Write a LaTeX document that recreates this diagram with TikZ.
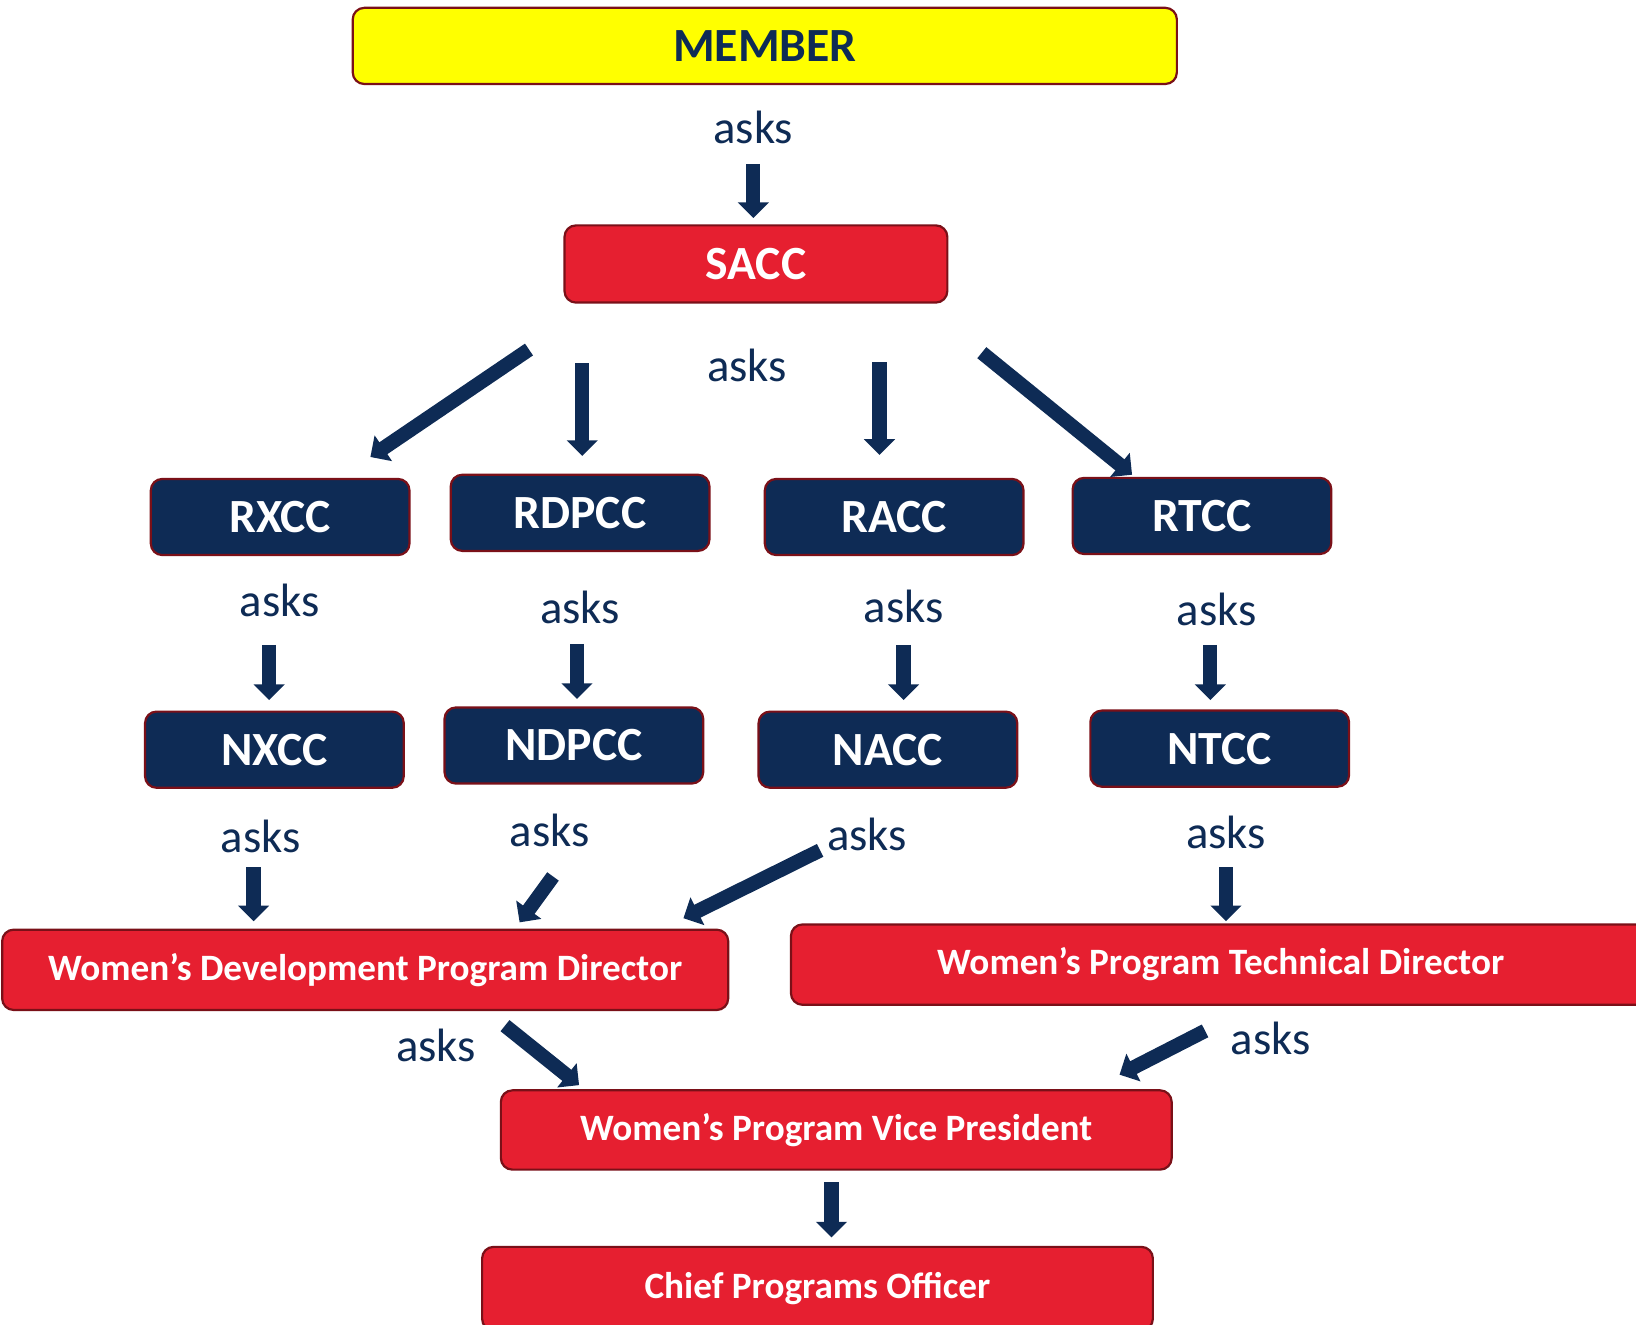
\documentclass[tikz,border=0pt]{standalone}
\usepackage{fontspec}
\setmainfont{Carlito}
\usetikzlibrary{arrows.meta, positioning, calc}
\usepackage{xcolor}
\definecolor{navy}{HTML}{0E2B55}
\definecolor{boxred}{HTML}{E61F30}
\definecolor{boxedge}{HTML}{7A1018}
\definecolor{memberyellow}{HTML}{FFFF00}

\tikzset{
  box/.style={draw=boxedge, line width=1.2pt, rounded corners=0.22cm, inner sep=0pt, font=\bfseries\fontsize{26}{31}\selectfont},
  navybox/.style={box, fill=navy, text=white, minimum width=4.96cm, minimum height=1.46cm},
  redbox/.style={box, fill=boxred, text=white},
  longlabel/.style={font=\bfseries\fontsize{20.3}{24}\selectfont},
  asks/.style={text=navy, font=\fontsize{25.5}{30}\selectfont},
  arr/.style={draw=navy, line width=7.8pt, -{Triangle[width=0.58cm,length=0.3cm]}},
}

\begin{document}
\begin{tikzpicture}[x=0.02cm, y=-0.02cm]
    \useasboundingbox (0,0) rectangle (1568,1269);
    \clip (0,0) rectangle (1568,1269);

    \node[box, fill=memberyellow, text=navy, minimum width=15.8cm, minimum height=1.46cm] (member) at (733,44) {MEMBER};
    \node[redbox, minimum width=7.34cm, minimum height=1.48cm] (sacc) at (724.5,253) {SACC};

    \node[navybox] (rxcc) at (268.5,495.5) {RXCC};
    \node[navybox] (rdpcc) at (556,491.5) {RDPCC};
    \node[navybox] (racc) at (857,495.5) {RACC};
    \node[navybox] (rtcc) at (1152,494.5) {RTCC};

    \node[navybox] (nxcc) at (263,718.5) {NXCC};
    \node[navybox] (ndpcc) at (550,714.5) {NDPCC};
    \node[navybox] (nacc) at (851,718.5) {NACC};
    \node[navybox] (ntcc) at (1169,717.5) {NTCC};

    \node[redbox, longlabel, minimum width=13.92cm, minimum height=1.54cm] (wdpd) at (350,929.5) {Women’s Development Program Director};
    \node[redbox, longlabel, minimum width=16.48cm, minimum height=1.54cm] (wptd) at (1170,924.5) {Women’s Program Technical Director};
    \node[redbox, longlabel, minimum width=12.86cm, minimum height=1.52cm] (wpvp) at (801.5,1083) {Women’s Program Vice President};
    \node[redbox, longlabel, minimum width=12.86cm, minimum height=1.6cm] (cpo) at (783.5,1235) {Chief Programs Officer};

    \node[asks] (ask1) at (722,122) {asks};
    \node[asks] (ask2) at (716,350) {asks};
    \node[asks] (ask3) at (268,575) {asks};
    \node[asks] (ask4) at (556,582) {asks};
    \node[asks] (ask5) at (866,581) {asks};
    \node[asks] (ask6) at (1166,584) {asks};
    \node[asks] (ask7) at (250,802) {asks};
    \node[asks] (ask8) at (527,796) {asks};
    \node[asks] (ask9) at (831,800) {asks};
    \node[asks] (ask10) at (1175,798) {asks};
    \node[asks] (ask11) at (418,1002) {asks};
    \node[asks] (ask12) at (1218,995) {asks};

    \coordinate (t1) at (722,157);
    \coordinate (t2) at (507,335);   \coordinate (h2) at (355,438);
    \coordinate (t3) at (558,348);
    \coordinate (t4) at (843,347);
    \coordinate (t5) at (941,338);   \coordinate (h5) at (1085,455);
    \coordinate (t6) at (258,618);
    \coordinate (t7) at (553,617);
    \coordinate (t8) at (866,618);
    \coordinate (t9) at (1160,618);
    \coordinate (t10) at (243,831);
    \coordinate (t11) at (530,840);  \coordinate (h11) at (498,884);
    \coordinate (t12) at (786,815);  \coordinate (h12) at (655,880);
    \coordinate (t13) at (1175,831);
    \coordinate (t14) at (484,983);  \coordinate (h14) at (555,1040);
    \coordinate (t15) at (1155,988); \coordinate (h15) at (1073,1030);
    \coordinate (t16) at (797,1133);

    \draw[arr, shorten >=0.12cm] (t1) -- (t1 |- sacc.north);
    \draw[arr] (t2) -- (h2);
    \draw[arr, shorten >=0.34cm] (t3) -- (t3 |- rdpcc.north);
    \draw[arr, shorten >=0.44cm] (t4) -- (t4 |- racc.north);
    \draw[arr] (t5) -- (h5);
    \draw[arr, shorten >=0.2cm] (t6) -- (t6 |- nxcc.north);
    \draw[arr, shorten >=0.14cm] (t7) -- (t7 |- ndpcc.north);
    \draw[arr, shorten >=0.2cm] (t8) -- (t8 |- nacc.north);
    \draw[arr, shorten >=0.18cm] (t9) -- (t9 |- ntcc.north);
    \draw[arr, shorten >=0.14cm] (t10) -- (t10 |- wdpd.north);
    \draw[arr] (t11) -- (h11);
    \draw[arr] (t12) -- (h12);
    \draw[arr, shorten >=0.04cm] (t13) -- (t13 |- wptd.north);
    \draw[arr] (t14) -- (h14);
    \draw[arr] (t15) -- (h15);
    \draw[arr, shorten >=0.16cm] (t16) -- (t16 |- cpo.north);
  \end{tikzpicture}
\end{document}
